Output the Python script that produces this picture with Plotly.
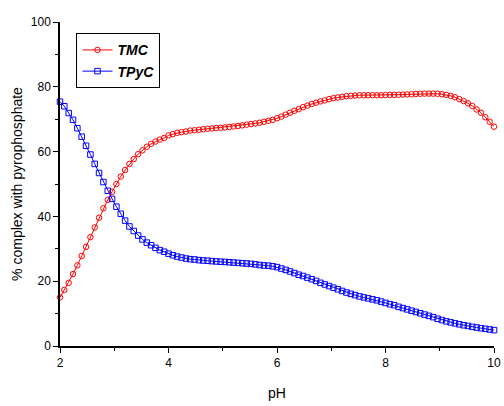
import plotly.graph_objects as go

# pH grid: 2.00 to 10.00 in steps of 0.08 (101 points)
ph = [round(2 + 0.08 * i, 2) for i in range(101)]

tmc = [
    15.0, 17.3, 19.5, 22.2, 24.9, 27.8, 30.6, 33.6, 36.6, 39.6,
    42.5, 45.1, 47.6, 50.0, 52.3, 54.3, 56.2, 57.7, 59.2, 60.4,
    61.5, 62.4, 63.1, 63.7, 64.2, 65.0, 65.4, 65.8, 66.0, 66.2,
    66.5, 66.6, 66.75, 66.9, 67.05, 67.15, 67.25, 67.35, 67.45, 67.6,
    67.75, 67.9, 68.1, 68.3, 68.5, 68.7, 68.9, 69.2, 69.5, 69.8,
    70.3, 70.8, 71.4, 72.0, 72.6, 73.1, 73.7, 74.2, 74.7, 75.1,
    75.5, 75.8, 76.2, 76.5, 76.7, 76.9, 77.1, 77.2, 77.3, 77.4,
    77.4, 77.4, 77.4, 77.4, 77.4, 77.45, 77.5, 77.5, 77.55, 77.6,
    77.65, 77.7, 77.8, 77.85, 77.9, 77.9, 77.9, 77.85, 77.7, 77.5,
    77.2, 76.8, 76.2, 75.6, 74.9, 74.1, 73.0, 72.0, 70.6, 69.2,
    67.7,
]

tpyc = [
    75.4, 74.0, 71.9, 69.8, 67.2, 64.6, 61.8, 59.1, 56.2, 53.4,
    50.6, 47.9, 45.4, 43.0, 40.8, 38.7, 36.9, 35.5, 34.1, 32.9,
    31.9, 31.1, 30.3, 29.6, 29.1, 28.5, 28.0, 27.6, 27.3, 27.0,
    26.8, 26.7, 26.5, 26.4, 26.3, 26.2, 26.1, 26.0, 25.95, 25.85,
    25.75, 25.65, 25.55, 25.45, 25.35, 25.2, 25.0, 24.85, 24.8, 24.6,
    24.35, 23.9, 23.5, 23.0, 22.5, 22.0, 21.6, 21.1, 20.6, 20.1,
    19.5, 19.0, 18.5, 18.0, 17.5, 17.0, 16.5, 16.1, 15.7, 15.3,
    15.0, 14.7, 14.4, 14.1, 13.7, 13.3, 12.9, 12.6, 12.1, 11.7,
    11.3, 10.9, 10.5, 10.1, 9.7, 9.3, 8.9, 8.4, 8.0, 7.6,
    7.3, 7.0, 6.7, 6.4, 6.2, 5.9, 5.7, 5.5, 5.3, 5.1,
    4.9,
]

x_ticks = [2, 4, 6, 8, 10]
y_ticks = [0, 20, 40, 60, 80, 100]

fig = go.Figure()
fig.add_trace(go.Scatter(
    x=ph, y=tmc, name="<b><i>TMC</i></b>", mode="lines+markers",
    line=dict(color="#ff0000", width=1),
    marker=dict(symbol="circle-open", size=5.5, color="#ff0000", line=dict(width=1)),
    cliponaxis=False,
))
fig.add_trace(go.Scatter(
    x=ph, y=tpyc, name="<b><i>TPyC</i></b>", mode="lines+markers",
    line=dict(color="#0000ff", width=1),
    marker=dict(symbol="square-open", size=5.5, color="#0000ff", line=dict(width=1)),
    cliponaxis=False,
))

axis_common = dict(
    showgrid=False, zeroline=False, showline=True, linecolor="black", linewidth=1.5,
    ticks="outside", ticklen=5, tickwidth=1, tickcolor="black", automargin=False,
    tickfont=dict(family="Liberation Sans, Arial", size=12, color="black"),
)

fig.update_xaxes(
    range=[2, 10], tickvals=x_ticks, ticktext=[str(v) for v in x_ticks],
    minor=dict(ticks="outside", ticklen=3, dtick=1, tick0=2, tickcolor="black"),
    title=dict(text="pH", font=dict(family="Liberation Sans, Arial", size=14, color="black"), standoff=19),
    **axis_common,
)
fig.update_yaxes(
    range=[0, 100], tickvals=y_ticks, ticktext=[str(v) for v in y_ticks],
    minor=dict(ticks="outside", ticklen=3, dtick=10, tick0=0, tickcolor="black"),
    title=dict(text="% complex with pyrophosphate", font=dict(family="Liberation Sans, Arial", size=14, color="black"), standoff=5),
    **axis_common,
)

fig.update_layout(
    width=504, height=406,
    margin=dict(l=60, r=10, t=22, b=60),
    plot_bgcolor="white", paper_bgcolor="white",
    showlegend=True,
    legend=dict(
        x=0.038, y=0.965, xanchor="left", yanchor="top",
        bordercolor="black", borderwidth=1, bgcolor="white",
        font=dict(family="Liberation Sans, Arial", size=14, color="black"),
        tracegroupgap=0, itemwidth=30,
    ),
)

fig.write_html("out.html")
